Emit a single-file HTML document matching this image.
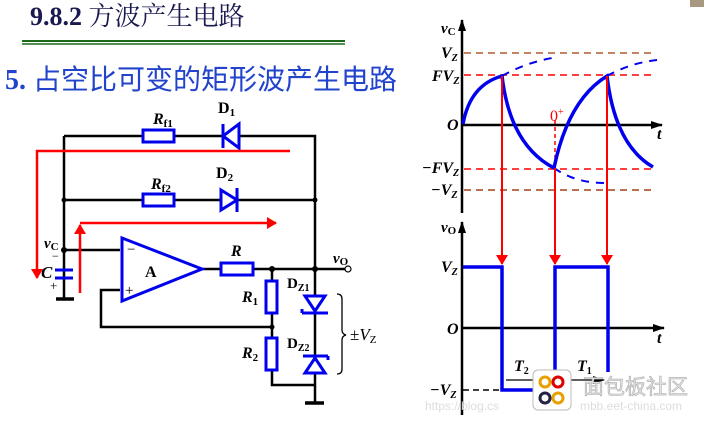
<!DOCTYPE html>
<html><head><meta charset="utf-8"><style>
html,body{margin:0;padding:0;background:#fff;width:710px;height:421px;overflow:hidden}
svg{display:block}
.s{font-family:"Liberation Serif","Noto Serif CJK SC",serif}
</style></head><body>
<svg width="710" height="421" viewBox="0 0 710 421" xmlns="http://www.w3.org/2000/svg">
<defs>
<marker id="ar" markerWidth="10" markerHeight="12" refX="9" refY="6" orient="auto" markerUnits="userSpaceOnUse"><path d="M0,0 L10,6 L0,12 z" fill="#f00"/></marker>
<marker id="ak" markerWidth="12" markerHeight="8" refX="11" refY="4" orient="auto" markerUnits="userSpaceOnUse"><path d="M0,0 L12,4 L0,8 z" fill="#000"/></marker>
</defs>
<text x="30" y="25" class="s" font-size="26" font-weight="bold" fill="#1a1a50">9.8.2 <tspan font-family="'Noto Serif CJK SC',serif" font-weight="normal">方波产生电路</tspan></text>
<line x1="22" y1="41" x2="345" y2="41" stroke="#1a6a1a" stroke-width="2"/>
<line x1="22" y1="44" x2="345" y2="44" stroke="#1a6a1a" stroke-width="1.5"/>
<text x="5" y="89" class="s" font-size="28" font-weight="bold" fill="#2244cc">5. <tspan font-family="'Noto Sans CJK SC',sans-serif" font-weight="normal" font-size="28">占空比可变的矩形波产生电路</tspan></text>

<g stroke="#000" stroke-width="2.5" fill="none">
<path d="M64,136 H315 V403"/>
<path d="M64,136 V299"/>
<path d="M64,200 H315"/>
<path d="M64,250 H120"/>
<path d="M202,269 H345"/>
<path d="M272,269 V385 H315"/>
<path d="M120,290 H101 V327 H272"/>
<path d="M56,299 H74 M305,403 H324" stroke-width="3.5"/>
</g>
<g fill="#000"><circle cx="64" cy="200" r="2.5"/><circle cx="315" cy="200" r="2.5"/><circle cx="64" cy="250" r="3"/><circle cx="272" cy="269" r="3"/><circle cx="315" cy="269" r="3"/><circle cx="272" cy="327" r="2.5"/></g>
<circle cx="348" cy="269" r="3" fill="#fff" stroke="#000" stroke-width="1.2"/>
<g stroke="#0000ee" stroke-width="3" fill="#fff">
<rect x="143" y="130" width="31" height="12"/>
<rect x="143" y="194" width="31" height="12"/>
<rect x="221" y="263" width="32" height="12"/>
<rect x="266" y="281" width="11" height="32"/>
<rect x="266" y="338" width="11" height="32"/>
<path d="M122,238 L202,269 L122,301 Z"/>
<path d="M239,124 L223,136 L239,148 Z"/>
<path d="M223,124 V148" fill="none"/>
<path d="M221,190 L237,200 L221,210 Z"/>
<path d="M237,188 V212" fill="none"/>
<path d="M305,296 L315,311 L325,296 Z"/>
<path d="M302,313 H328 M302,313 v-4" fill="none"/>
<path d="M305,373 L315,358 L325,373 Z"/>
<path d="M303,356 H328 M328,356 v4" fill="none"/>
<path d="M55,270 H73 M55,278 H73" fill="none"/>
</g>
<path d="M337,294 q5,0 5,5 V330 q0,4 4,5 q-4,1 -4,5 V369 q0,5 -5,5" fill="none" stroke="#000" stroke-width="1.3"/>
<g stroke="#f00" stroke-width="2.5" fill="none">
<path d="M290,151 H37 V278" marker-end="url(#ar)"/>
<path d="M80,293 V225" marker-end="url(#ar)"/>
<path d="M80,223 H276" marker-end="url(#ar)"/>
</g>
<g class="s" font-weight="bold" fill="#000">
<text x="153" y="124" font-size="16" font-style="italic">R<tspan font-size="11" font-style="normal" dy="3">f1</tspan></text>
<text x="218" y="113" font-size="16">D<tspan font-size="11" dy="3">1</tspan></text>
<text x="151" y="189" font-size="16" font-style="italic">R<tspan font-size="11" font-style="normal" dy="3">f2</tspan></text>
<text x="216" y="178" font-size="16">D<tspan font-size="11" dy="3">2</tspan></text>
<text x="231" y="256" font-size="16" font-style="italic">R</text>
<text x="145" y="277" font-size="16">A</text>
<text x="127" y="254" font-size="15" font-weight="normal">−</text>
<text x="125" y="295" font-size="15" font-weight="normal">+</text>
<text x="242" y="302" font-size="16" font-style="italic">R<tspan font-size="11" font-style="normal" dy="3">1</tspan></text>
<text x="242" y="358" font-size="16" font-style="italic">R<tspan font-size="11" font-style="normal" dy="3">2</tspan></text>
<text x="287" y="288" font-size="15">D<tspan font-size="10" dy="3">Z1</tspan></text>
<text x="287" y="348" font-size="15">D<tspan font-size="10" dy="3">Z2</tspan></text>
<text x="350" y="340" font-size="17" font-weight="normal">±<tspan font-style="italic">V</tspan><tspan font-size="11" dy="3">Z</tspan></text>
<text x="333" y="263" font-size="15" font-style="italic">v<tspan font-size="11" font-style="normal" dy="2">O</tspan></text>
<text x="44" y="248" font-size="15" font-style="italic">v<tspan font-size="11" font-style="normal" dy="2">C</tspan></text>
<text x="52" y="260" font-size="12" font-weight="normal">−</text>
<text x="41" y="278" font-size="17" font-style="italic">C</text>
<text x="50" y="290" font-size="13" font-weight="normal">+</text>
</g>

<g stroke-width="1.5" fill="none" stroke-dasharray="7,5">
<line x1="464" y1="53" x2="655" y2="53" stroke="#b05a30"/>
<line x1="464" y1="75" x2="655" y2="75" stroke="#f00"/>
<line x1="464" y1="169" x2="655" y2="169" stroke="#f00"/>
<line x1="464" y1="190" x2="655" y2="190" stroke="#a0401a"/>
<line x1="555" y1="120" x2="555" y2="168" stroke="#f00" stroke-dasharray="4,3"/>
</g>
<g stroke="#000" stroke-width="2.5" fill="none">
<path d="M462,213 V20" marker-end="url(#ak)"/>
<path d="M462,125 H662" marker-end="url(#ak)"/>
<path d="M462,415 V222" marker-end="url(#ak)"/>
<path d="M462,328 H664" marker-end="url(#ak)"/>
</g>
<g stroke="#0000ee" stroke-width="3.5" fill="none">
<path d="M463,124 Q470,85 502,76 Q510,145 554,168 Q568,100 607,76 Q615,145 653,167"/>
<path d="M502,76 Q525,63 552,58 M554,168 Q575,183 605,183 M607,76 Q630,63 657,60" stroke-width="2" stroke-dasharray="8,7"/>
<path d="M463,267 H502 V390 H555 V267 H608 V372"/>
</g>
<g stroke="#f00" stroke-width="2" fill="none">
<path d="M502,76 V264" marker-end="url(#ar)"/>
<path d="M555,168 V264" marker-end="url(#ar)"/>
<path d="M607,76 V264" marker-end="url(#ar)"/>
</g>
<path d="M463,390 H502" stroke="#000" stroke-width="1.5" stroke-dasharray="6,4"/>
<path d="M550,380 H506 M560,380 H604" stroke="#000" stroke-width="1.3" marker-end="url(#ak)"/>
<g class="s" font-weight="bold" fill="#000" font-style="italic">
<text x="441" y="33" font-size="15">v<tspan font-size="11" font-style="normal" dy="2">C</tspan></text>
<text x="441" y="58" font-size="16">V<tspan font-size="10" dy="3">Z</tspan></text>
<text x="432" y="81" font-size="16">FV<tspan font-size="10" dy="3">Z</tspan></text>
<text x="447" y="130" font-size="16">O</text>
<text x="657" y="139" font-size="16">t</text>
<text x="422" y="173" font-size="16">−FV<tspan font-size="10" dy="3">Z</tspan></text>
<text x="431" y="195" font-size="16">−V<tspan font-size="10" dy="3">Z</tspan></text>
<text x="441" y="232" font-size="15">v<tspan font-size="11" font-style="normal" dy="2">O</tspan></text>
<text x="441" y="272" font-size="16">V<tspan font-size="10" dy="3">Z</tspan></text>
<text x="447" y="334" font-size="16">O</text>
<text x="657" y="343" font-size="16">t</text>
<text x="430" y="395" font-size="16">−V<tspan font-size="10" dy="3">Z</tspan></text>
<text x="514" y="371" font-size="16">T<tspan font-size="10" font-style="normal" dy="3">2</tspan></text>
<text x="577" y="371" font-size="16">T<tspan font-size="10" font-style="normal" dy="3">1</tspan></text>
</g>
<text x="550" y="121" class="s" font-size="16" fill="#f00">0<tspan font-size="10" dy="-6">+</tspan></text>
<rect x="533" y="370" width="38" height="40" rx="5" fill="#fff" stroke="#bbb"/>
<g fill="none" stroke-width="3"><circle cx="545" cy="382" r="5" stroke="#e8a000"/><circle cx="558" cy="382" r="5" stroke="#d00"/><circle cx="545" cy="398" r="5" stroke="#224"/><circle cx="558" cy="398" r="5" stroke="#e8a000"/></g>
<text x="583" y="394" font-family="'Noto Sans CJK SC',sans-serif" font-size="21" fill="#e6e6e6" stroke="#aaa" stroke-width="0.6">面包板社区</text>
<text x="425" y="410" font-family="'Liberation Sans',sans-serif" font-size="12" fill="#ddd">https://blog.cs</text>
<text x="580" y="410" font-family="'Liberation Sans',sans-serif" font-size="12" fill="#ddd">mbb.eet-china.com</text>
<rect x="690" y="0" width="14" height="7" fill="#a89880"/>
</svg>
</body></html>
